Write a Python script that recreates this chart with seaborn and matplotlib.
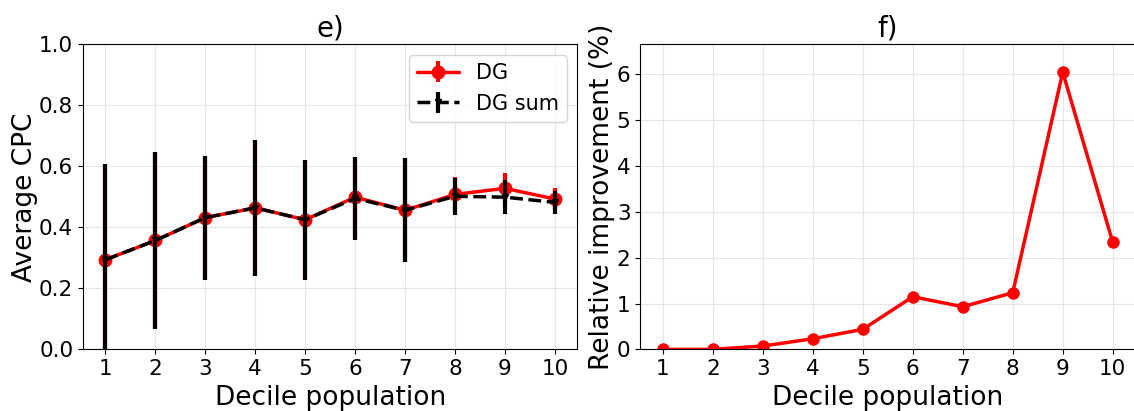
import numpy as np
import pandas as pd
import matplotlib
matplotlib.use("Agg")
import matplotlib.pyplot as plt
import seaborn as sns

# values
deciles = [1, 2, 3, 4, 5, 6, 7, 8, 9, 10]
dg = [0.294, 0.357, 0.432, 0.464, 0.425, 0.499, 0.456, 0.508, 0.528, 0.493]
dg_err = [0.31, 0.29, 0.20, 0.22, 0.195, 0.133, 0.17, 0.057, 0.05, 0.035]
dg_sum = [0.294, 0.357, 0.432, 0.464, 0.425, 0.495, 0.456, 0.502, 0.499, 0.482]
dg_sum_err = [0.313, 0.29, 0.203, 0.224, 0.197, 0.135, 0.17, 0.06, 0.055, 0.037]
improvement = [0.0, 0.0, 0.072, 0.231, 0.436, 1.148, 0.93, 1.235, 6.05, 2.335]

sns.set_style("ticks", {"axes.grid": True, "grid.color": "#e6e6e6",
                        "axes.edgecolor": "black", "text.color": "black",
                        "axes.labelcolor": "black", "xtick.color": "black",
                        "ytick.color": "black"})
plt.rcParams['font.family'] = ['DejaVu Sans']

fig = plt.figure(figsize=(11.34, 4.11), dpi=100)
ax1 = fig.add_axes([0.0732, 0.150, 0.4359, 0.742])
ax2 = fig.add_axes([0.5646, 0.150, 0.4365, 0.742])

# e) average CPC with error bars
ax1.errorbar(deciles, dg, yerr=dg_err, color="red", marker="o", markersize=9,
             lw=2.5, elinewidth=3, label="DG", zorder=2)
ax1.errorbar(deciles, dg_sum, yerr=dg_sum_err, color="black", marker="v",
             markersize=5, lw=2.5, ls="--", elinewidth=3, label="DG sum", zorder=3)
ax1.set_ylim(0, 1)
ax1.set_xticks(deciles)
ax1.set_xlabel("Decile population", fontsize=19)
ax1.set_ylabel("Average CPC", fontsize=19, labelpad=1)
ax1.set_title("e)", fontsize=20)
ax1.legend(fontsize=15, loc="upper right")

# f) relative improvement
df = pd.DataFrame({"decile": deciles, "improvement": improvement})
sns.lineplot(data=df, x="decile", y="improvement", ax=ax2, color="red",
             marker="o", markersize=9, markeredgewidth=0, lw=2.5)
ax2.set_ylim(0, 1.1 * max(improvement))
ax2.set_xticks(deciles)
ax2.set_xlabel("Decile population", fontsize=19)
ax2.set_ylabel("Relative improvement (%)", fontsize=19, labelpad=1)
ax2.set_title("f)", fontsize=20)

for ax in (ax1, ax2):
    ax.tick_params(labelsize=15.5, colors="black")
    ax.grid(True, color="#e6e6e6", lw=0.8)
    for s in ax.spines.values():
        s.set_color("black")

fig.savefig("out.png", dpi=100)
